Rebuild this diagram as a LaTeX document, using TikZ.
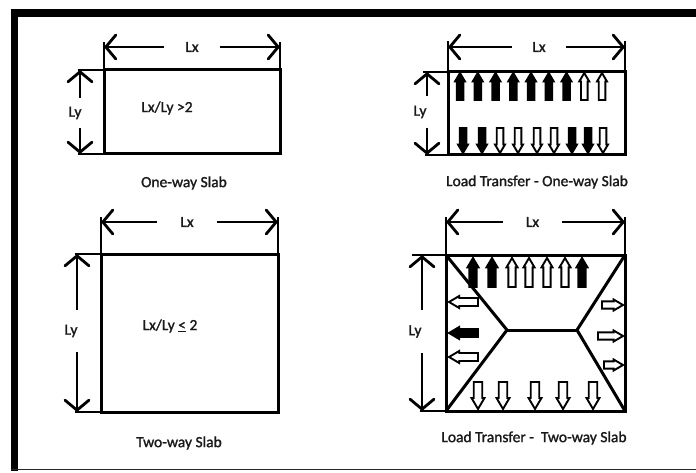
\documentclass[tikz,border=0pt]{standalone}
\usepackage{fontspec}
\setmainfont{Carlito}
\newfontfamily\lblfont{Carlito}[FakeBold=1.4]
\usetikzlibrary{arrows.meta,calc}

\tikzset{
  slab/.style={line width=3pt, line join=miter},
  dim/.style={line width=2.8pt, -{Straight Barb[length=10pt,width=24pt,line cap=round]}},
  ext/.style={line width=2.4pt},
  lbl/.style={font=\lblfont\fontsize{15.5}{18}\selectfont, text=black!90, inner sep=0pt},
  gapx/.style={lbl, minimum width=#1},
  gapy/.style={lbl, minimum height=#1},
  % block arrow: length, head width, fill colour; tail at the origin, pointing along +x
  pics/blk/.style n args={3}{code={
    \pgfmathsetmacro\blkL{#1}
    \pgfmathsetmacro\blkW{#2}
    \pgfmathsetmacro\blkH{\blkL-0.85*\blkW}
    \draw[line width=1.9pt, line join=miter, fill=#3]
      (0,{-0.33*\blkW}) -- (\blkH,{-0.33*\blkW}) -- (\blkH,{-0.5*\blkW})
      -- (\blkL,0) -- (\blkH,{0.5*\blkW}) -- (\blkH,{0.33*\blkW})
      -- (0,{0.33*\blkW}) -- cycle;
  }},
}

\begin{document}
\begin{tikzpicture}[x=1pt, y=-1pt]
\useasboundingbox (0,0) rectangle (696,473);

% frame
\fill[black] (11,9) rectangle (696,17);
\fill[black] (11,9) rectangle (18,471);
\draw[line width=1.6pt, black!85] (11,469.5) -- (696,469.5);

% ---------------- one-way slab ----------------
\coordinate (p1a) at (104,70);
\coordinate (p1b) at (280,70);
\coordinate (p1c) at (280,154);
\coordinate (p1d) at (104,154);
\coordinate (p1t) at (80,70);
\coordinate (p1u) at (80,154);
\draw[slab] (p1a) rectangle (p1c);
\node[gapx=55pt] (p1lx) at (192,47) {Lx};
\draw[dim] (p1lx.west) -- (p1a |- p1lx);
\draw[dim] (p1lx.east) -- (p1b |- p1lx);
\draw[ext] (p1a) -- ($(p1a |- p1lx)+(0,-5)$);
\draw[ext] (p1b) -- ($(p1b |- p1lx)+(0,-5)$);
\node[gapy=30pt] (p1ly) at (75,113) {Ly};
\draw[dim] (p1t |- p1ly.north) -- (p1t);
\draw[dim] (p1t |- p1ly.south) -- (p1u);
\draw[ext] ($(p1t)+(-2,0)$) -- (p1a);
\draw[ext] ($(p1u)+(-2,0)$) -- (p1d);
\node[lbl] (p1r) at (167,108) {Lx/Ly >2};
\node[lbl] (p1n) at (184,183) {One-way Slab};

% ---------------- load transfer, one-way ----------------
\coordinate (p2a) at (448,72);
\coordinate (p2b) at (625,72);
\coordinate (p2c) at (625,155);
\coordinate (p2d) at (448,155);
\coordinate (p2t) at (427,72);
\coordinate (p2u) at (427,155);
\draw[slab] (p2a) rectangle (p2c);
\node[gapx=54pt] (p2lx) at (539,47) {Lx};
\draw[dim] (p2lx.west) -- (p2a |- p2lx);
\draw[dim] (p2lx.east) -- (p2b |- p2lx);
\draw[ext] (p2a) -- ($(p2a |- p2lx)+(0,-6)$);
\draw[ext] (p2b) -- ($(p2b |- p2lx)+(0,-6)$);
\node[gapy=31pt] (p2ly) at (420,112) {Ly};
\draw[dim] (p2t |- p2ly.north) -- (p2t);
\draw[dim] (p2t |- p2ly.south) -- (p2u);
\draw[ext] ($(p2t)+(-4,0)$) -- (p2a);
\draw[ext] ($(p2u)+(-2,0)$) -- (p2d);
\foreach \x/\f in {460/black,477.75/black,495.5/black,513.25/black,531/black,
                   548.75/black,566.5/black,584.25/white,602/white}
  \pic[rotate=90] at (\x,100) {blk={27}{10}{\f}};
\foreach \x/\f in {463/black,482/black,500/white,518/white,537/white,
                   554/white,572/black,588/black,603/white}
  \pic[rotate=-90] at (\x,128) {blk={25}{10}{\f}};
\node[lbl] (p2n) at (537,182) {Load Transfer - One-way Slab};

% ---------------- two-way slab ----------------
\coordinate (p3a) at (101,254);
\coordinate (p3b) at (278,254);
\coordinate (p3c) at (278,412);
\coordinate (p3d) at (101,412);
\coordinate (p3t) at (77,254);
\coordinate (p3u) at (77,412);
\draw[slab] (p3a) rectangle (p3c);
\node[gapx=60pt] (p3lx) at (187,222) {Lx};
\draw[dim] (p3lx.west) -- (p3a |- p3lx);
\draw[dim] (p3lx.east) -- (p3b |- p3lx);
\draw[ext] (p3a) -- ($(p3a |- p3lx)+(0,-5)$);
\draw[ext] (p3b) -- ($(p3b |- p3lx)+(0,-5)$);
\node[gapy=42pt] (p3ly) at (71,331) {Ly};
\draw[dim] (p3t |- p3ly.north) -- (p3t);
\draw[dim] (p3t |- p3ly.south) -- (p3u);
\draw[ext] ($(p3t)+(-2,0)$) -- (p3a);
\draw[ext] ($(p3u)+(-2,0)$) -- (p3d);
\node[lbl] (p3r) at (170,326) {Lx/Ly \underline{<} 2};
\node[lbl] (p3n) at (179,443) {Two-way Slab};

% ---------------- load transfer, two-way ----------------
\coordinate (p4a) at (446,255);
\coordinate (p4b) at (625,255);
\coordinate (p4c) at (625,411);
\coordinate (p4d) at (446,411);
\coordinate (p4t) at (422,255);
\coordinate (p4u) at (422,411);
\coordinate (p4l) at (507,330);
\coordinate (p4r) at (577,330);
\draw[slab] (p4a) rectangle (p4c);
\draw[slab] (p4a) -- (p4l) -- (p4d);
\draw[slab] (p4b) -- (p4r) -- (p4c);
\draw[slab] (p4l) -- (p4r);
\node[gapx=59pt] (p4lx) at (532.5,222) {Lx};
\draw[dim] (p4lx.west) -- (p4a |- p4lx);
\draw[dim] (p4lx.east) -- (p4b |- p4lx);
\draw[ext] (p4a) -- ($(p4a |- p4lx)+(0,-5)$);
\draw[ext] (p4b) -- ($(p4b |- p4lx)+(0,-5)$);
\node[gapy=43pt] (p4ly) at (415,331.5) {Ly};
\draw[dim] (p4t |- p4ly.north) -- (p4t);
\draw[dim] (p4t |- p4ly.south) -- (p4u);
\draw[ext] ($(p4t)+(-10,0)$) -- (p4a);
\draw[ext] ($(p4u)+(-2,0)$) -- (p4d);
\foreach \x/\f in {473/black,492/black,512/white,529/white,547/white,565/white,582/black}
  \pic[rotate=90] at (\x,287) {blk={29}{11}{\f}};
\foreach \y/\f in {302/white,333/black,357/white}
  \pic[rotate=180] at (478,\y) {blk={29}{12}{\f}};
\foreach \y/\l in {305/21,336/25,365/19}
  \pic at ({623-\l},\y) {blk={\l}{11}{white}};
\foreach \x in {478,503,535,563,593}
  \pic[rotate=-90] at (\x,382) {blk={27}{13}{white}};
\node[lbl] (p4n) at (534,438) {Load Transfer -\ \ Two-way Slab};

\end{tikzpicture}
\end{document}
